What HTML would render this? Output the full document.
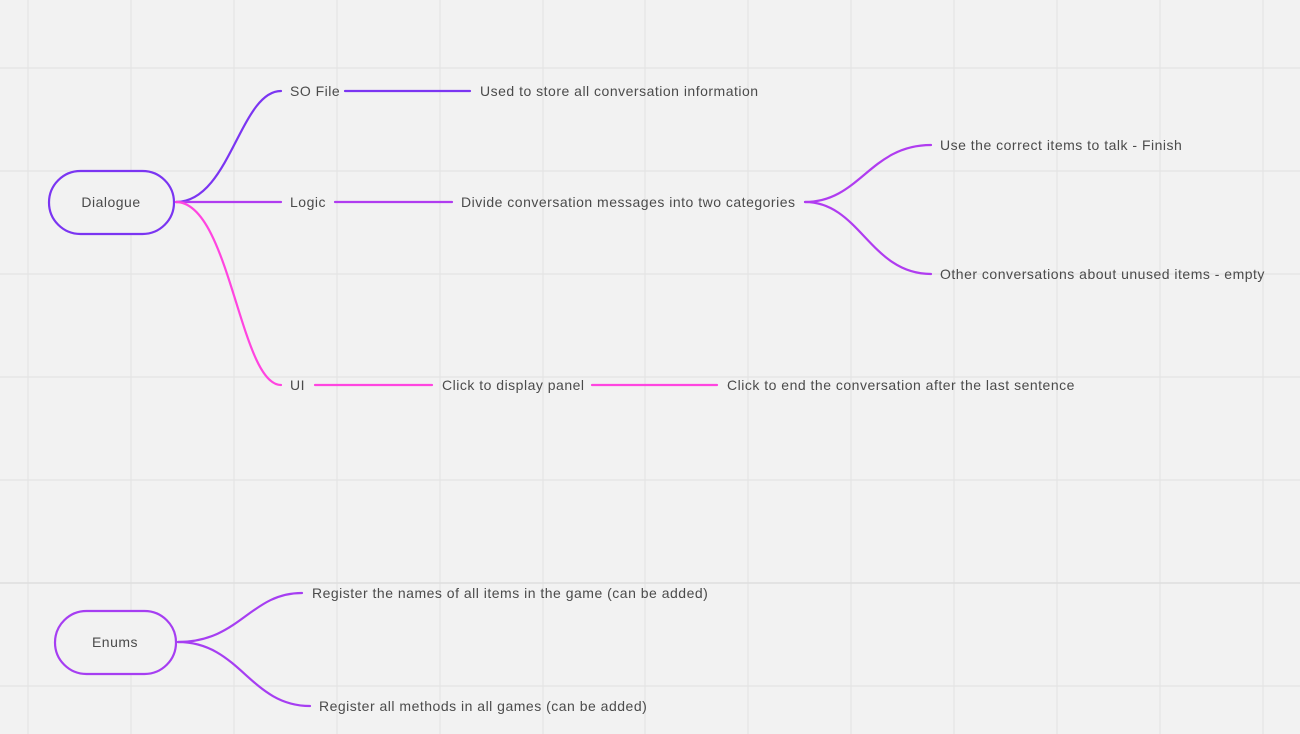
<!DOCTYPE html>
<html><head><meta charset="utf-8"><style>
html,body{margin:0;padding:0;background:#f2f2f2;}
svg{display:block;}
text{font-family:"Liberation Sans",sans-serif;font-size:14px;letter-spacing:0.5px;fill:#4b4b4b;dominant-baseline:central;}
</style></head><body>
<svg width="1300" height="734" viewBox="0 0 1300 734">
<g stroke="#e4e4e4" stroke-width="1.2">
<line x1="28" y1="0" x2="28" y2="734"/><line x1="131" y1="0" x2="131" y2="734"/><line x1="234" y1="0" x2="234" y2="734"/><line x1="337" y1="0" x2="337" y2="734"/><line x1="440" y1="0" x2="440" y2="734"/><line x1="543" y1="0" x2="543" y2="734"/><line x1="645" y1="0" x2="645" y2="734"/><line x1="748" y1="0" x2="748" y2="734"/><line x1="851" y1="0" x2="851" y2="734"/><line x1="954" y1="0" x2="954" y2="734"/><line x1="1057" y1="0" x2="1057" y2="734"/><line x1="1160" y1="0" x2="1160" y2="734"/><line x1="1263" y1="0" x2="1263" y2="734"/>
<line x1="0" y1="68" x2="1300" y2="68"/><line x1="0" y1="171" x2="1300" y2="171"/><line x1="0" y1="274" x2="1300" y2="274"/><line x1="0" y1="377" x2="1300" y2="377"/><line x1="0" y1="480" x2="1300" y2="480"/><line x1="0" y1="583" x2="1300" y2="583" stroke="#dedede" stroke-width="1.6"/><line x1="0" y1="686" x2="1300" y2="686"/>
</g>
<g fill="none" stroke-width="2.2" stroke-linecap="round">
<path d="M176 202 C 230 202, 240 91, 281 91" stroke="#7b35f2"/>
<path d="M345 91 H470" stroke="#7b35f2"/>
<path d="M176 202 H281" stroke="#b03cf0"/>
<path d="M335 202 H452" stroke="#b03cf0"/>
<path d="M805 202 C 860 202, 870 145, 931 145" stroke="#b03cf0"/>
<path d="M805 202 C 860 202, 870 274, 931 274" stroke="#b03cf0"/>
<path d="M176 202 C 230 202, 240 385, 281 385" stroke="#ff45e0"/>
<path d="M315 385 H432" stroke="#ff45e0"/>
<path d="M592 385 H717" stroke="#ff45e0"/>
<path d="M178 642 C 240 642, 250 593, 302 593" stroke="#a63ef2"/>
<path d="M178 642 C 240 642, 250 706, 310 706" stroke="#a63ef2"/>
</g>
<g>
<rect x="49" y="171" width="125" height="63" rx="31.5" fill="#f2f2f2" stroke="#7b35f2" stroke-width="2.2"/>
<text x="111" y="202" text-anchor="middle">Dialogue</text>
</g>
<g>
<rect x="55" y="611" width="121" height="63" rx="31.5" fill="#f2f2f2" stroke="#a63ef2" stroke-width="2.2"/>
<text x="115" y="642" text-anchor="middle">Enums</text>
</g>
<text x="290" y="91">SO File</text>
<text x="480" y="91">Used to store all conversation information</text>
<text x="290" y="202">Logic</text>
<text x="461" y="202">Divide conversation messages into two categories</text>
<text x="940" y="145">Use the correct items to talk - Finish</text>
<text x="940" y="274">Other conversations about unused items - empty</text>
<text x="290" y="385">UI</text>
<text x="442" y="385">Click to display panel</text>
<text x="727" y="385">Click to end the conversation after the last sentence</text>
<text x="312" y="593">Register the names of all items in the game (can be added)</text>
<text x="319" y="706">Register all methods in all games (can be added)</text>
</svg>
</body></html>
